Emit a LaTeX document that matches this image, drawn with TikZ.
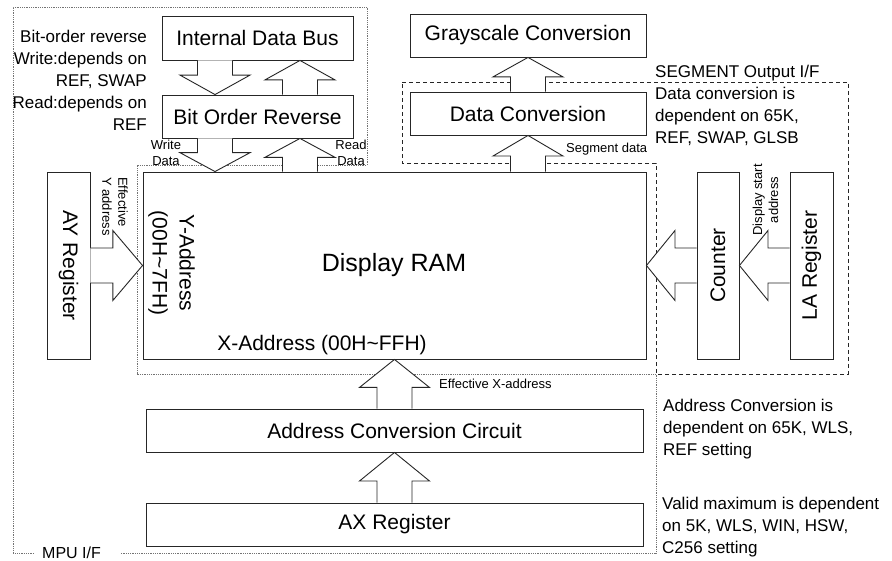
\documentclass[tikz,border=0pt]{standalone}
\usepackage{fontspec}
\setmainfont{Liberation Sans}
\usetikzlibrary{calc, positioning}

\tikzset{
  blk/.style={draw=black!85, line width=0.9pt, inner sep=0pt, font=\fontsize{21}{25}\selectfont},
  boxtxt/.style={inner sep=0pt, font=\fontsize{21}{27}\selectfont},
  note/.style={inner sep=0pt, font=\fontsize{17}{22}\selectfont},
  smalltxt/.style={inner sep=0pt, font=\fontsize{13}{16}\selectfont},
  mpuline/.style={draw=black!55, densely dotted, line width=0.8pt},
  segline/.style={draw=black!85, dash pattern=on 4pt off 3pt, line width=0.8pt},
  blkarr/.style={draw=black!85, fill=white, line width=0.9pt, line join=miter,
    to path={
      ($(\tikztostart)!17.5pt!90:(\tikztotarget)$)
      -- ($($(\tikztostart)!0.43!(\tikztotarget)$)!17.5pt!90:(\tikztotarget)$)
      -- ($($(\tikztostart)!0.43!(\tikztotarget)$)!35pt!90:(\tikztotarget)$)
      -- (\tikztotarget)
      -- ($($(\tikztostart)!0.43!(\tikztotarget)$)!35pt!-90:(\tikztotarget)$)
      -- ($($(\tikztostart)!0.43!(\tikztotarget)$)!17.5pt!-90:(\tikztotarget)$)
      -- ($(\tikztostart)!17.5pt!-90:(\tikztotarget)$)
    }}
}

\begin{document}
\begin{tikzpicture}[x=1pt, y=-1pt]
        \useasboundingbox (0,0) rectangle (892,561);

        \node [blk, minimum width=236pt, minimum height=43pt] (gray) at (528, 35.5) {Grayscale Conversion};
        \node [blk, minimum width=191pt, minimum height=44pt] (idb) at (257.5, 38) {Internal Data Bus};
        \node [blk, minimum width=191pt, minimum height=43pt] (bor) at (257.5, 116.5) {Bit Order Reverse};
        \node [blk, minimum width=236pt, minimum height=43pt] (dconv) at (528, 113.5) {Data Conversion};
        \node [blk, minimum width=503pt, minimum height=187pt] (ram) at (394.5, 265.5) {};
        \node [blk, minimum width=43pt, minimum height=187pt] (ay) at (68.5, 265.5) {};
        \node [blk, minimum width=42pt, minimum height=187pt] (cnt) at (718, 265.5) {};
        \node [blk, minimum width=43pt, minimum height=187pt] (la) at (811.5, 265.5) {};
        \node [blk, minimum width=497pt, minimum height=43pt] (acc) at (394.5, 430.5) {Address Conversion Circuit};
        \node [blk, minimum width=497pt, minimum height=43pt] (ax) at (394.5, 524.5) {AX Register};

        \node [boxtxt, font=\fontsize{25}{30}\selectfont] (ramtxt) at (394, 265) {Display RAM};
        \node [boxtxt, rotate=-90] (aytxt) at (ay) {AY Register};
        \node [boxtxt, rotate=90] (cnttxt) at (cnt) {Counter};
        \node [boxtxt, rotate=90] (latxt) at (la) {LA Register};
        \node [boxtxt, rotate=-90, align=center] (yaddr) at (171.5, 263) {Y-Address\\(00H\textasciitilde 7FH)};
        \node [boxtxt] (xaddr) at (322, 345) {X-Address (00H\textasciitilde FFH)};

        \node [note, anchor=west, font=\fontsize{16}{19}\selectfont] (mpu) at (42, 553) {MPU I/F};
        \draw [mpuline] ([xshift=-8pt]mpu.west) -| (13,7) -| (367,165) -| (137,374) -| (656,553) -- ([xshift=20pt]mpu.east);
        \draw [segline] (402,82) -| (848,374) -| (656,163) -| (402,82) -- cycle;

        \coordinate (wx) at (215,0);
        \coordinate (rx) at (300,0);
        \draw [blkarr] (idb.south -| wx) to (bor.north -| wx);
        \draw [blkarr] (bor.north -| rx) to (idb.south -| rx);
        \draw [blkarr] (bor.south -| wx) to (ram.north -| wx);
        \draw [blkarr] (ram.north -| rx) to (bor.south -| rx);
        \draw [blkarr] (ram.north -| dconv.south) to (dconv.south);
        \draw [blkarr] (dconv.north) to (gray.south);
        \draw [blkarr] (ax.north) to (acc.south);
        \draw [blkarr] (acc.north) to (ram.south -| acc.north);
        \draw [blkarr] (ay.east) to (ay.east -| ram.west);
        \draw [blkarr] (cnt.west) to (cnt.west -| ram.east);
        \draw [blkarr] (la.west) to (cnt.east);

        \node [note, align=right, anchor=east] (bornote) at (147, 80) {Bit-order reverse\\Write:depends on\\REF, SWAP\\Read:depends on\\REF};
        \node [note, align=left, anchor=west] (segnote) at (655, 105) {SEGMENT Output I/F\\Data conversion is\\dependent on 65K,\\REF, SWAP, GLSB};
        \node [note, align=left, anchor=west] (accnote) at (663, 429) {Address Conversion is\\dependent on 65K, WLS,\\REF setting};
        \node [note, align=left, anchor=west] (axnote) at (662, 527) {Valid maximum is dependent\\on 5K, WLS, WIN, HSW,\\C256 setting};

        \node [smalltxt, align=center] (wrtxt) at (166, 153) {Write\\Data};
        \node [smalltxt, align=center] (rdtxt) at (351, 153) {Read\\Data};
        \node [smalltxt, anchor=west] (segtxt) at (566, 149) {Segment data};
        \node [smalltxt, anchor=west] (effx) at (439, 384) {Effective X-address};
        \node [smalltxt, rotate=-90, align=left, anchor=west] (effy) at (115, 177) {Effective\\Y address};
        \node [smalltxt, rotate=90, align=center] (dstart) at (765.5, 200) {Display start\\address};
    \end{tikzpicture}
\end{document}
